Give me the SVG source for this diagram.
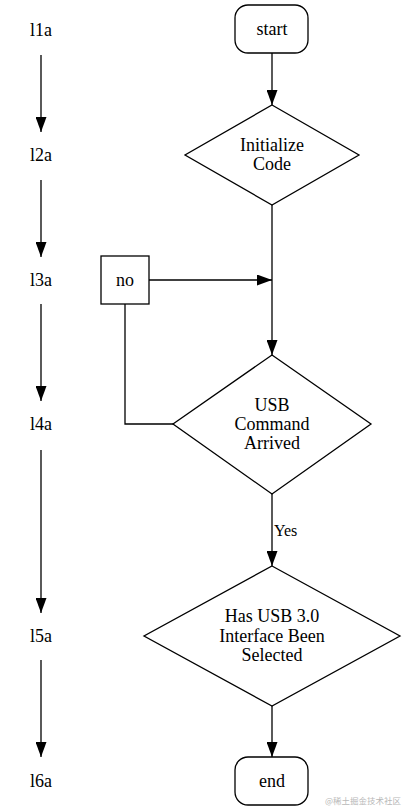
<svg xmlns="http://www.w3.org/2000/svg" width="405" height="811" viewBox="0 0 405 811">
<defs>
<style>
.t{font-family:"Liberation Serif","Times New Roman","DejaVu Serif",serif;font-size:18px;fill:#000;text-anchor:middle}
.lbl{font-family:"Liberation Serif","Times New Roman","DejaVu Serif",serif;font-size:16px;fill:#000}
.n{fill:#fff;stroke:#000;stroke-width:1.3}
.c{fill:none;stroke:#000;stroke-width:1.3}
.wm{font-family:"Noto Sans CJK SC","Noto Sans",sans-serif;font-size:8.5px;fill:#b8b8b8;text-anchor:end}
</style>
<marker id="ah" viewBox="0 0 15 11" refX="15" refY="5.5" markerWidth="15" markerHeight="11" markerUnits="userSpaceOnUse" orient="auto">
<path d="M0,0 L15,5.5 L0,11 Z" fill="#000"/>
</marker>
</defs>
<rect width="405" height="811" fill="#fff"/>
<g id="connectors">
<line class="c" x1="272" y1="53" x2="272" y2="105" marker-end="url(#ah)"/>
<line class="c" x1="272" y1="205" x2="272" y2="355" marker-end="url(#ah)"/>
<line class="c" x1="149" y1="280" x2="272" y2="280" marker-end="url(#ah)"/>
<polyline class="c" points="125,304 125,424 173,424"/>
<line class="c" x1="272" y1="494" x2="272" y2="566" marker-end="url(#ah)"/>
<text class="lbl" x="274" y="536">Yes</text>
<line class="c" x1="272" y1="706" x2="272" y2="757" marker-end="url(#ah)"/>
<line class="c" x1="41" y1="55" x2="41" y2="132" marker-end="url(#ah)"/>
<line class="c" x1="41" y1="180" x2="41" y2="257" marker-end="url(#ah)"/>
<line class="c" x1="41" y1="304" x2="41" y2="401" marker-end="url(#ah)"/>
<line class="c" x1="41" y1="450" x2="41" y2="613" marker-end="url(#ah)"/>
<line class="c" x1="41" y1="660" x2="41" y2="757" marker-end="url(#ah)"/>
</g>
<g id="l1a"><text class="t" x="41" y="36">l1a</text></g>
<g id="l2a"><text class="t" x="41" y="161">l2a</text></g>
<g id="l3a"><text class="t" x="41" y="286">l3a</text></g>
<g id="l4a"><text class="t" x="41" y="430">l4a</text></g>
<g id="l5a"><text class="t" x="41" y="642">l5a</text></g>
<g id="l6a"><text class="t" x="41" y="787">l6a</text></g>
<g id="start">
<rect class="n" x="235" y="5" width="73" height="48" rx="13"/>
<text class="t" x="272" y="35">start</text>
</g>
<g id="init">
<polygon class="n" points="272,105 359,155 272,205 185,155"/>
<text class="t" x="272" y="151">Initialize</text>
<text class="t" x="272" y="170">Code</text>
</g>
<g id="no">
<rect class="n" x="101" y="256" width="48" height="48"/>
<text class="t" x="125" y="286">no</text>
</g>
<g id="usb">
<polygon class="n" points="272,355 371,424 272,494 173,424"/>
<text class="t" x="272" y="411">USB</text>
<text class="t" x="272" y="430">Command</text>
<text class="t" x="272" y="449">Arrived</text>
</g>
<g id="has">
<polygon class="n" points="272,566 400,636 272,706 144,636"/>
<text class="t" x="272" y="622">Has USB 3.0</text>
<text class="t" x="272" y="642">Interface Been</text>
<text class="t" x="272" y="661">Selected</text>
</g>
<g id="end">
<rect class="n" x="235" y="757" width="73" height="48" rx="13"/>
<text class="t" x="272" y="787">end</text>
</g>
<text class="wm" x="401" y="804">@稀土掘金技术社区</text>
</svg>
